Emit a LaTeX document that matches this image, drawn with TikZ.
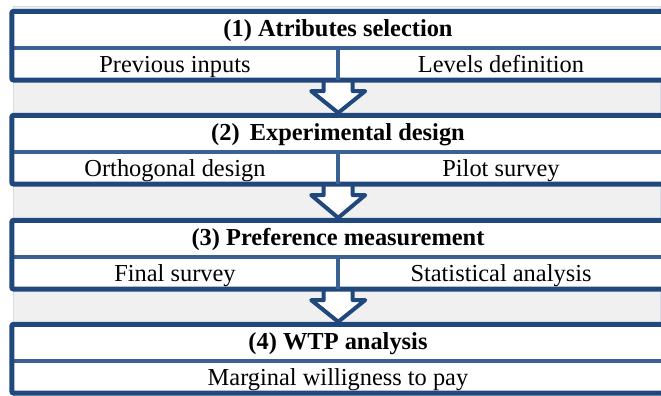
\documentclass[tikz,border=0pt]{standalone}
\usepackage{fontspec}
\setmainfont{Liberation Serif}
\usetikzlibrary{calc}
\usetikzlibrary{positioning}
\usetikzlibrary{backgrounds}

\definecolor{boxblue}{RGB}{33,72,124}
\definecolor{splitblue}{RGB}{58,97,147}
\definecolor{bggray}{RGB}{240,240,240}
\definecolor{bgedge}{RGB}{214,220,229}

\tikzset{
  stagetitle/.style={fill=white, minimum width=652bp, minimum height=36.5bp, inner sep=0pt,
    font=\bfseries\fontsize{24.5}{28}\selectfont, text height=13.5bp, text depth=0pt},
  stagepart/.style={fill=white, minimum width=326bp, minimum height=31.5bp, inner sep=0pt,
    font=\fontsize{24.5}{28}\selectfont, text height=16bp, text depth=0pt},
  stageframe/.style={draw=boxblue, line width=5bp, rounded corners=2bp},
  stagesplit/.style={draw=splitblue, line width=4bp},
  flowarrow/.style={draw=boxblue, fill=white, line width=4bp, line join=round},
}

\begin{document}
\begin{tikzpicture}[x=1bp, y=-1bp]
            \useasboundingbox (0,0) rectangle (661,395);

            % Stage 1
            \node[stagetitle] (t1) at (338,29.75) {(1) Atributes selection};
            \node[stagepart, below right=0pt of t1.south west] (s1a) {Previous inputs};
            \node[stagepart, below left=0pt of t1.south east] (s1b) {Levels definition};

            % Stage 2
            \node[stagetitle] (t2) at (338,133.75) {(2)\, Experimental design};
            \node[stagepart, below right=0pt of t2.south west] (s2a) {Orthogonal design};
            \node[stagepart, below left=0pt of t2.south east] (s2b) {Pilot survey};

            % Stage 3
            \node[stagetitle] (t3) at (338,238.75) {(3) Preference measurement};
            \node[stagepart, below right=0pt of t3.south west] (s3a) {Final survey};
            \node[stagepart, below left=0pt of t3.south east] (s3b) {Statistical analysis};

            % Stage 4
            \node[stagetitle] (t4) at (338,342.75) {(4) WTP analysis};
            \node[stagepart, minimum width=652bp, below=0pt of t4.south] (s4) {Marginal willigness to pay};

            % Frames and splits
            \foreach \t/\s in {t1/s1b, t2/s2b, t3/s3b, t4/s4} {
              \draw[stagesplit] (\t.south west) -- (\t.south east);
              \draw[stageframe] (\t.north west) rectangle (\s.south east);
            }
            \foreach \s in {s1a, s2a, s3a}
              \draw[stagesplit] (\s.north east) -- (\s.south east);

            % Background and arrows between stages
            \begin{scope}[on background layer]
              \fill[bggray, draw=bgedge, line width=0.8bp] (13,6) rectangle (660,396);
              \foreach \s/\t in {s1a/t2, s2a/t3, s3a/t4}
                \draw[flowarrow] ($(\s.south east)+(-14.5,0)$) -- ($(\s.south east)+(-14.5,11)$)
                  -- ($(\s.south east)+(-27,11)$) -- ($(\t.north -| \s.south east)+(0,-2.5)$)
                  -- ($(\s.south east)+(27,11)$) -- ($(\s.south east)+(14.5,11)$)
                  -- ($(\s.south east)+(14.5,0)$);
            \end{scope}

\end{tikzpicture}
\end{document}
